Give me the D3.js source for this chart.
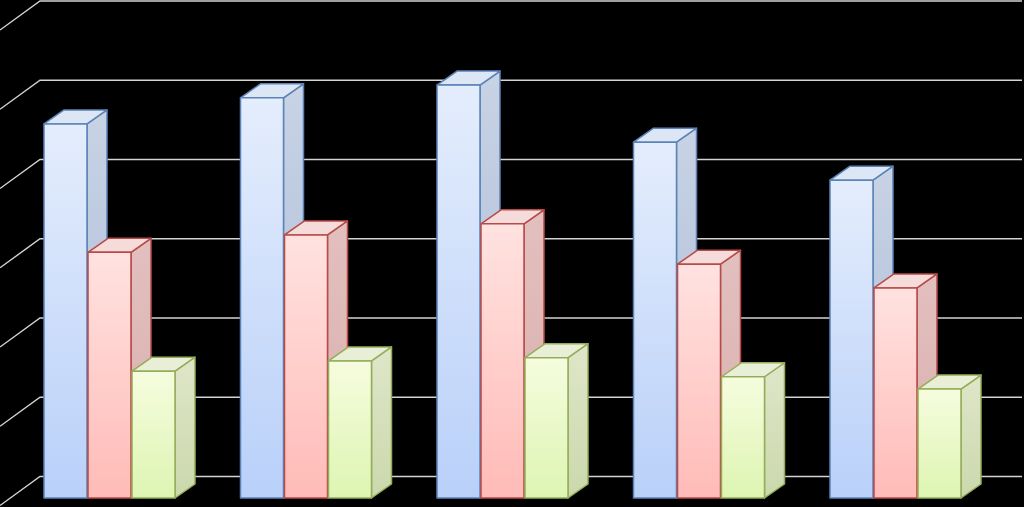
<!DOCTYPE html>
<html><head><meta charset="utf-8">
<style>html,body{margin:0;padding:0;background:#000}svg{display:block}</style>
<script src="https://cdnjs.cloudflare.com/ajax/libs/d3/7.9.0/d3.min.js"></script>
</head><body><svg id="c" width="1024" height="507"></svg>
<script>
const categories = ["A","B","C","D","E"];
const seriesNames = ["s1","s2","s3"];
const s1Values = [4.72,5.05,5.21,4.49,4.01];
const s2Values = [3.10,3.32,3.46,2.95,2.65];
const s3Values = [1.60,1.73,1.77,1.53,1.375];
const gridTicks = [0,1,2,3,4,5,6];
const seriesValues = [s1Values,s2Values,s3Values];
const frontColors = [["#e4edfc","#b9d0f9"],["#ffe2e0","#ffbbb7"],["#f6fcde","#ddf5b2"]];
const edgeColors = ["#5b83b8","#b84a48","#95ad5a"];
const topColors = ["#dde6f5","#f5dcda","#e9efd6"];
const sideColors = [["#c8d3e4","#a7b8d6"],["#e2c0bf","#d8aeac"],["#dfe6c9","#cbd8ac"]];

const W=1024,H=507,baseY=498,dx=20,dy=14;
const svg=d3.select("#c");
svg.append("rect").attr("width",W).attr("height",H).attr("fill","#000");
const y=d3.scaleLinear().domain([0,6]).range([baseY,22.5]);
const x=d3.scaleBand().domain(categories).range([44,44+5*196.5]);
const xs=d3.scaleBand().domain(seriesNames).range([0,132]);
const defs=svg.append("defs");
function grad(id,c){const g=defs.append("linearGradient").attr("id",id).attr("x1",0).attr("y1",0).attr("x2",0).attr("y2",1);
 g.append("stop").attr("offset","0%").attr("stop-color",c[0]);g.append("stop").attr("offset","100%").attr("stop-color",c[1]);}
seriesNames.forEach((s,i)=>{grad("f"+i,frontColors[i]);grad("d"+i,sideColors[i]);});
// walls: back gridlines with left-wall diagonals
const wallX=40, wallRise=29, backShift=21.5;
const gl=svg.append("g").attr("fill","none").attr("stroke","#d4d4d4").attr("stroke-width",1.4);
gl.selectAll("path").data(gridTicks).join("path")
 .attr("d",t=>{const by=y(t)-backShift;return `M0,${by+wallRise}L${wallX},${by}L1022,${by}`;});
// bars
categories.forEach((c,ci)=>{
 const g=svg.append("g");
 seriesNames.forEach((s,i)=>{
  const v=seriesValues[i][ci], x0=x(c)+xs(s), w=xs.bandwidth()-1, t=y(v), b=y(0);
  const bar=g.append("g").attr("stroke",edgeColors[i]).attr("stroke-width",1.5).attr("stroke-linejoin","round");
  bar.append("path").attr("fill",`url(#d${i})`).attr("d",`M${x0+w},${t}L${x0+w+dx},${t-dy}L${x0+w+dx},${b-dy}L${x0+w},${b}Z`);
  bar.append("path").attr("fill",topColors[i]).attr("d",`M${x0},${t}L${x0+dx},${t-dy}L${x0+w+dx},${t-dy}L${x0+w},${t}Z`);
  bar.append("rect").attr("x",x0).attr("y",t).attr("width",w).attr("height",b-t).attr("fill",`url(#f${i})`);
 });
});
</script></body></html>
